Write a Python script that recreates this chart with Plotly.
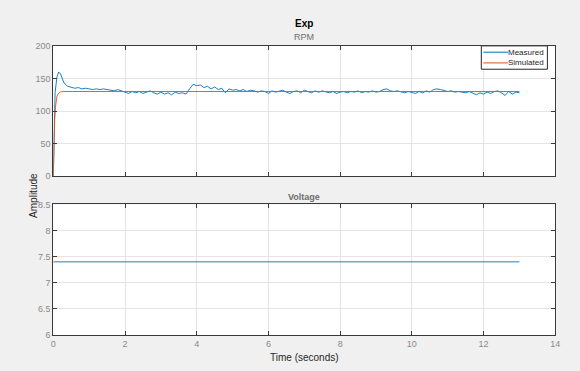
import numpy as np
import plotly.graph_objects as go

# ---- data ----
t_early = [0.0, 0.05, 0.1, 0.15, 0.2, 0.25, 0.3]
t_rest = list(np.round(np.arange(0.4, 13.0001, 0.1), 2))
time_measured = t_early + t_rest

rpm_measured = [
    0, 128, 152, 160, 157, 150, 143,
    138, 137, 135, 136, 134, 135, 134, 133, 134, 133, 134, 133,
    132, 131, 133, 131, 130, 127, 130, 128, 130, 127,
    129, 131, 128, 126, 129, 126, 128, 125, 129, 127,
    128, 126, 134, 141, 139, 140, 136, 138, 134, 137,
    133, 135, 128, 134, 132, 133, 131, 133, 130, 132,
    131, 129, 131, 130, 127, 131, 129, 130, 132, 129,
    127, 130, 131, 128, 132, 130, 128, 131, 129, 131,
    130, 128, 130, 127, 129, 130, 128, 130, 129, 131,
    128, 130, 129, 131, 129, 130, 133, 134, 131, 130,
    131, 129, 128, 130, 129, 127, 130, 128, 131, 129,
    133, 134, 133, 132, 130, 131, 129, 130, 129, 128,
    130, 127, 125, 128, 126, 129, 127, 130, 131, 128,
    124, 130, 126, 129, 128,
]

time_simulated = [0.0, 0.02, 0.04, 0.06, 0.08, 0.1, 0.13, 0.16, 0.2, 0.25, 0.3, 13.0]
rpm_simulated = [0, 55, 88, 106, 116, 122, 126, 128.2, 129.4, 129.8, 130, 130]

time_voltage = [0.0, 13.0]
voltage = [7.4, 7.4]

x_ticks = [0, 2, 4, 6, 8, 10, 12, 14]
rpm_ticks = [0, 50, 100, 150, 200]
volt_ticks = [6, 6.5, 7, 7.5, 8, 8.5]
legend_names = ["Measured", "Simulated"]

# ---- figure ----
W, H = 580, 371
BLUE = "#0072BD"
ORANGE = "#D95319"
FONT = "Liberation Sans, Arial, sans-serif"
TICKC = "#8a8a8a"
DARK = "#262626"

def py(p):
    return 1 - p / H

def px(p):
    return p / W

fig = go.Figure()
fig.add_trace(go.Scatter(x=time_measured, y=rpm_measured, mode="lines", name=legend_names[0],
                         line=dict(color=BLUE, width=0.9), xaxis="x", yaxis="y"))
fig.add_trace(go.Scatter(x=time_simulated, y=rpm_simulated, mode="lines", name=legend_names[1],
                         line=dict(color=ORANGE, width=0.9), xaxis="x", yaxis="y"))
fig.add_trace(go.Scatter(x=time_voltage, y=voltage, mode="lines", name="Voltage",
                         line=dict(color=BLUE, width=0.9), xaxis="x2", yaxis="y2"))

axcommon = dict(showline=True, linecolor="#3a3a3a", linewidth=1, mirror="ticks",
                ticks="inside", ticklen=4, tickcolor="#3a3a3a",
                showgrid=True, gridcolor="#e4e4e4", gridwidth=1, zeroline=False,
                tickfont=dict(family=FONT, size=9, color=TICKC))

xd = [px(51), px(560)]

# legend drawn as a boxed key in the upper-right corner of the RPM axes
shapes = [
    dict(type="rect", xref="paper", yref="paper", x0=px(485), x1=px(552), y0=py(66), y1=py(42),
         line=dict(color=DARK, width=1), fillcolor="white", layer="above"),
    dict(type="line", xref="paper", yref="paper", x0=px(487), x1=px(512), y0=py(48.5), y1=py(48.5),
         line=dict(color=BLUE, width=1), layer="above"),
    dict(type="line", xref="paper", yref="paper", x0=px(487), x1=px(512), y0=py(59.5), y1=py(59.5),
         line=dict(color=ORANGE, width=1), layer="above"),
]

def ann(text, x, y, size, color, **kw):
    d = dict(text=text, x=px(x), y=py(y), xref="paper", yref="paper", showarrow=False,
             yanchor="middle", font=dict(family=FONT, size=size, color=color))
    d.update(kw)
    return d

annotations = [
    ann("<b>Exp</b>", 305.5, 19, 10, "black"),
    ann("RPM", 305.5, 33, 9, "#6e6e6e"),
    ann("<b>Voltage</b>", 305.5, 197, 9, "#6e6e6e"),
    ann("Amplitude", 24, 196, 10, DARK, textangle=-90),
    ann("Time (seconds)", 305.5, 362, 10, DARK),
    ann(legend_names[0], 551, 48.5, 8, DARK, xanchor="right"),
    ann(legend_names[1], 551, 59.5, 8, DARK, xanchor="right"),
]

fig.update_layout(
    width=W, height=H,
    margin=dict(l=0, r=0, t=0, b=0),
    paper_bgcolor="#f0f0f0", plot_bgcolor="white",
    showlegend=False,
    xaxis=dict(domain=xd, anchor="y", range=[0, 14], tickvals=x_ticks, showticklabels=False, **axcommon),
    yaxis=dict(domain=[py(176), py(42)], anchor="x", range=[0, 200], tickvals=rpm_ticks, **axcommon),
    xaxis2=dict(domain=xd, anchor="y2", range=[0, 14], tickvals=x_ticks, **axcommon),
    yaxis2=dict(domain=[py(339), py(205)], anchor="x2", range=[6, 8.5], tickvals=volt_ticks,
                ticktext=[str(v) for v in volt_ticks], **axcommon),
    shapes=shapes,
    annotations=annotations,
)

fig.write_html("out.html")
